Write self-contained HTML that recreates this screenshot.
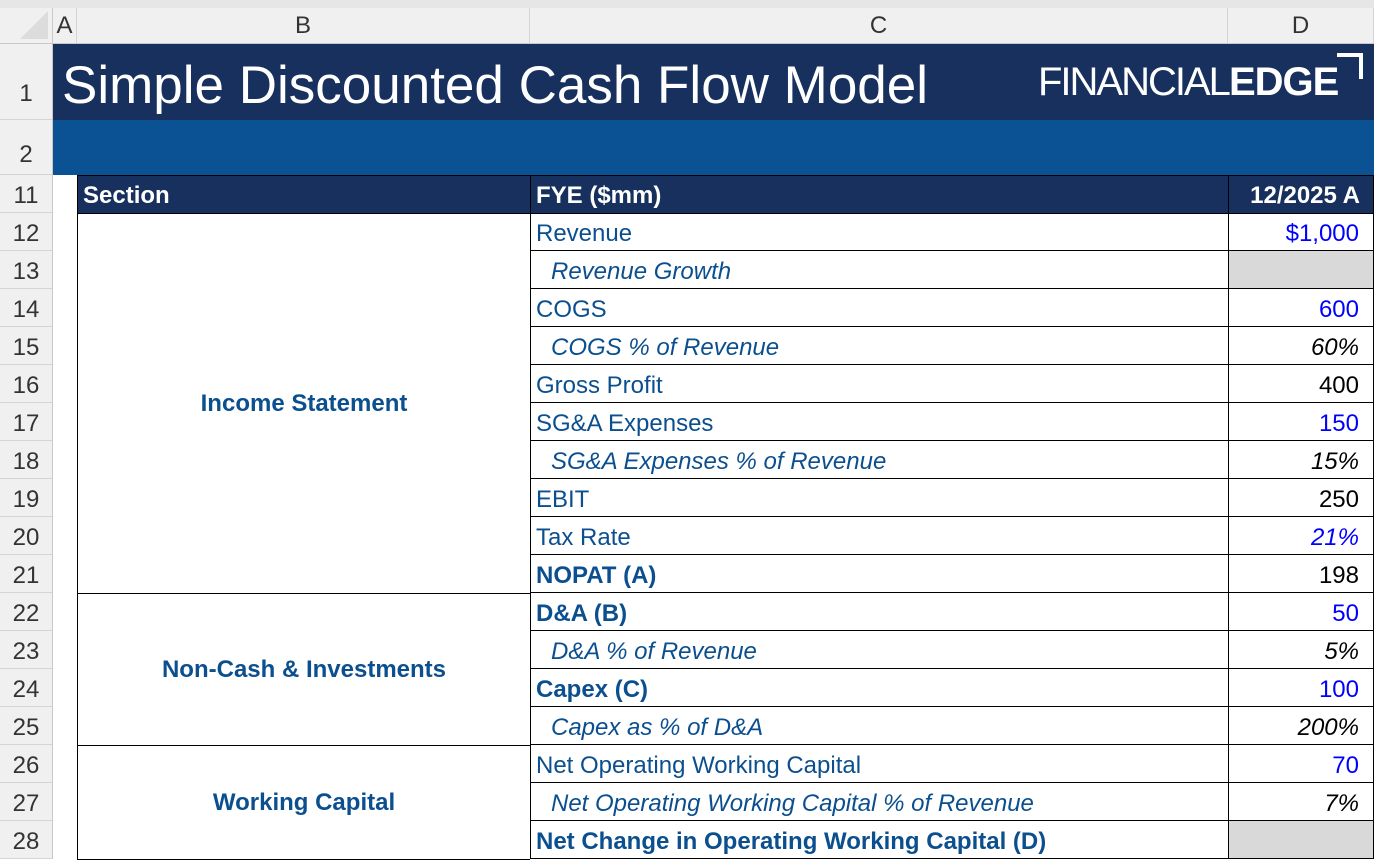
<!DOCTYPE html>
<html><head><meta charset="utf-8"><style>
*{margin:0;padding:0;box-sizing:border-box}
body{width:1374px;height:860px;overflow:hidden;background:#fff;font-family:"Liberation Sans",sans-serif;position:relative}
.a{position:absolute}
.rh{position:absolute;left:0;width:53px;background:#f0f0f0;border-bottom:1px solid #d4d4d4;color:#333;font-size:24px;text-align:center;border-right:1px solid #c8c8c8}
.ch{position:absolute;top:8px;height:36px;background:#f0f0f0;border-right:1px solid #d4d4d4;border-bottom:1px solid #c8c8c8;color:#333;font-size:24px;text-align:center;line-height:36px}
.lab{position:absolute;left:530px;width:698px;height:38px;border-bottom:1px solid #000;border-left:1px solid #000;color:#0b4f8f;font-size:24px;line-height:42px;padding-left:5px;white-space:nowrap}
.val{position:absolute;left:1228px;width:146px;height:38px;border-bottom:1px solid #000;border-left:1px solid #000;border-right:1px solid #000;font-size:24px;line-height:42px;text-align:right;padding-right:14px}
.it{font-style:italic;padding-left:20px}
.b{font-weight:bold}
.blue{color:#0000ff}.blk{color:#000}
.sec{position:absolute;left:77px;width:453px;border-left:1px solid #000;border-bottom:1px solid #000;color:#0b4f8f;font-weight:bold;font-size:24px;display:flex;align-items:center;justify-content:center;padding-top:2px}
</style></head><body>
<div class="a" style="left:0;top:0;width:1374px;height:8px;background:#e6e6e6"></div>
<div class="a" style="left:0;top:8px;width:53px;height:36px;background:#f0f0f0;border-right:1px solid #c8c8c8;border-bottom:1px solid #c8c8c8"><div style="position:absolute;right:4px;bottom:4px;width:0;height:0;border-left:28px solid transparent;border-bottom:28px solid #dcdcdc"></div></div>
<div class="ch" style="left:53px;width:24px">A</div>
<div class="ch" style="left:77px;width:453px">B</div>
<div class="ch" style="left:530px;width:698px">C</div>
<div class="ch" style="left:1228px;width:146px">D</div>

<div class="rh" style="top:44px;height:76px;line-height:100px">1</div>
<div class="rh" style="top:120px;height:55px;line-height:70px">2</div>
<div id="rows"></div>

<div class="a" style="left:53px;top:44px;width:1321px;height:76px;background:#17305e"></div>
<div class="a" style="left:62px;top:50px;color:#fff;font-size:53px;line-height:72px;white-space:nowrap">Simple Discounted Cash Flow Model</div>
<div class="a" style="left:1038px;top:60px;color:#fff;font-size:40px;line-height:44px;white-space:nowrap;letter-spacing:-1px"><span style="font-weight:100;letter-spacing:-2px;display:inline-block">FINANCIAL</span><span style="font-weight:bold">EDGE</span></div>
<div class="a" style="left:1337px;top:53px;width:26px;height:26px;border-top:4px solid #fff;border-right:4px solid #fff"></div>
<div class="a" style="left:53px;top:120px;width:1321px;height:55px;background:#0a5294"></div>

<div class="a" style="left:77px;top:175px;width:1297px;height:39px;background:#17305e;border:1px solid #000"></div>
<div class="a" style="left:83px;top:176px;color:#fff;font-weight:bold;font-size:24px;line-height:40px">Section</div>
<div class="a" style="left:530px;top:175px;height:39px;border-left:1px solid #000;padding-left:5px;color:#fff;font-weight:bold;font-size:24px;line-height:42px">FYE ($mm)</div>
<div class="a" style="left:1228px;top:175px;width:146px;height:39px;border-left:1px solid #000;padding-right:14px;text-align:right;color:#fff;font-weight:bold;font-size:24px;line-height:42px">12/2025 A</div>

<div class="sec" style="top:213px;height:381px">Income Statement</div>
<div class="sec" style="top:593px;height:153px">Non-Cash &amp; Investments</div>
<div class="sec" style="top:745px;height:115px">Working Capital</div>

<div id="body"></div>
<script>
var rowNums=[11,12,13,14,15,16,17,18,19,20,21,22,23,24,25,26,27,28];
var rowsEl=document.getElementById('rows');
rowNums.forEach(function(n,i){
 var d=document.createElement('div');
 d.className='rh';
 d.style.top=(175+38*i)+'px';d.style.height='38px';d.style.lineHeight='42px';
 d.textContent=n;
 
 
 rowsEl.appendChild(d);
});
var labels=["Revenue","Revenue Growth","COGS","COGS % of Revenue","Gross Profit","SG&A Expenses","SG&A Expenses % of Revenue","EBIT","Tax Rate","NOPAT (A)","D&A (B)","D&A % of Revenue","Capex (C)","Capex as % of D&A","Net Operating Working Capital","Net Operating Working Capital % of Revenue","Net Change in Operating Working Capital (D)"];
var styles=["","it","","it","","","it","","","b","b","it","b","it","","it","b"];
var values=["$1,000","","600","60%","400","150","15%","250","21%","198","50","5%","100","200%","70","7%",""];
var colors=["blue","","blue","blk it","blk","blue","blk it","blk","blue it","blk","blue","blk it","blue","blk it","blue","blk it",""];
var body=document.getElementById('body');
labels.forEach(function(t,i){
 var top=213+38*i;
 var l=document.createElement('div');
 l.className='lab '+styles[i];
 l.style.top=top+'px';
 l.textContent=t;
 
 
 body.appendChild(l);
 var v=document.createElement('div');
 v.className='val '+colors[i];
 v.style.top=top+'px';
 if(values[i]===''){v.style.background='#d9d9d9';}
 if(colors[i].indexOf('it')>=0){v.style.fontStyle='italic';v.style.paddingLeft='0';}
 v.textContent=values[i];
 
 
 body.appendChild(v);
});
</script>
</body></html>
